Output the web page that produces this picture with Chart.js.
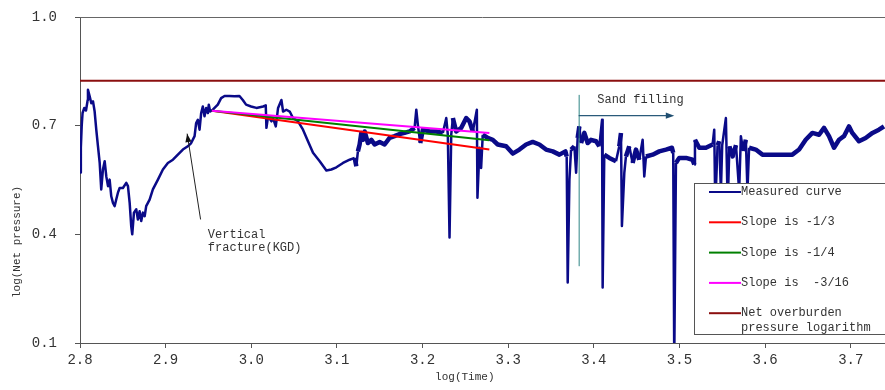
<!DOCTYPE html>
<html>
<head>
<meta charset="utf-8">
<script src="https://cdn.jsdelivr.net/npm/chart.js@4.4.1/dist/chart.umd.min.js"></script>
<style>
  body { margin: 0; background: #fff; }
  canvas { display: block; }
</style>
</head>
<body>
<canvas id="myChart" width="885" height="390"></canvas>
<script>
// measured curve: log(Time) / log(Net pressure)
const logTime = [
  2.800, 2.801, 2.802, 2.803, 2.805, 2.807, 2.809, 2.8093, 2.8113, 2.8132,
  2.8152, 2.8171, 2.8190, 2.8210, 2.8230, 2.8248, 2.8268, 2.8288, 2.8307, 2.8327,
  2.8346, 2.8365, 2.8385, 2.8405, 2.8423, 2.8443, 2.8463, 2.8501, 2.8540, 2.8560,
  2.8580, 2.8598, 2.8610, 2.8630, 2.8657, 2.8676, 2.8696, 2.8715, 2.8735, 2.8755,
  2.8773, 2.8813, 2.8851, 2.8910, 2.8968, 2.9026, 2.9085, 2.9143, 2.9201, 2.9259,
  2.9298, 2.9338, 2.9356, 2.9376, 2.9396, 2.9415, 2.9434, 2.9454, 2.9473, 2.9493,
  2.9504, 2.9520, 2.9551, 2.9609, 2.9648, 2.9688, 2.9746, 2.9804, 2.9862, 2.9901,
  2.9939, 2.9998, 3.0060, 3.0138, 3.0169, 3.0177, 3.0196, 3.0236, 3.0254, 3.0286,
  3.0313, 3.0352, 3.0371, 3.0410, 3.0449, 3.0487, 3.0546, 3.0604, 3.0662, 3.0721,
  3.0799, 3.0877, 3.0935, 3.0994, 3.1071, 3.1149, 3.1207, 3.1227, 3.1245, 3.1265,
  3.1285, 3.1304, 3.1324, 3.1362, 3.1402, 3.1440, 3.1499, 3.1557, 3.1615, 3.1673,
  3.1732, 3.1790, 3.1848, 3.1907, 3.1927, 3.1945, 3.1973, 3.2004, 3.2082, 3.2160,
  3.2237, 3.2277, 3.2295, 3.2315, 3.2335, 3.2354, 3.2393, 3.2452, 3.2510, 3.2548,
  3.2587, 3.2634, 3.2641, 3.2665, 3.2684, 3.2703, 3.2761, 3.2820, 3.2878, 3.2976,
  3.3053, 3.3131, 3.3209, 3.3286, 3.3364, 3.3442, 3.3520, 3.3598, 3.3668, 3.3683,
  3.3695, 3.3715, 3.3734, 3.3773, 3.3793, 3.3811, 3.3831, 3.3851, 3.3889, 3.3928,
  3.3967, 3.4026, 3.4064, 3.4096, 3.4103, 3.4122, 3.4181, 3.4259, 3.4297, 3.4317,
  3.4328, 3.4356, 3.4375, 3.4414, 3.4453, 3.4492, 3.4531, 3.4570, 3.4589, 3.4609,
  3.4687, 3.4764, 3.4842, 3.4912, 3.4927, 3.4939, 3.4959, 3.4997, 3.5076, 3.5153,
  3.5173, 3.5181, 3.5231, 3.5309, 3.5387, 3.5406, 3.5418, 3.5445, 3.5464, 3.5484,
  3.5499, 3.5542, 3.5563, 3.5583, 3.5621, 3.5660, 3.5697, 3.5717, 3.5744, 3.5775,
  3.5794, 3.5813, 3.5891, 3.5969, 3.6085, 3.6198, 3.6318, 3.6397, 3.6474, 3.6552,
  3.6630, 3.6688, 3.6746, 3.6805, 3.6863, 3.6921, 3.6980, 3.7018, 3.7096, 3.7174,
  3.7254, 3.7329, 3.7388
];
const logPressure = [
  0.571, 0.640, 0.700, 0.735, 0.749, 0.742, 0.771, 0.799, 0.781, 0.762,
  0.767, 0.739, 0.689, 0.643, 0.597, 0.524, 0.579, 0.602, 0.560, 0.533,
  0.551, 0.505, 0.487, 0.478, 0.496, 0.515, 0.528, 0.528, 0.542, 0.533,
  0.487, 0.423, 0.400, 0.460, 0.469, 0.441, 0.464, 0.437, 0.460, 0.450,
  0.478, 0.496, 0.524, 0.551, 0.579, 0.597, 0.606, 0.620, 0.634, 0.643,
  0.652, 0.671, 0.707, 0.716, 0.689, 0.735, 0.753, 0.726, 0.749, 0.735,
  0.758, 0.739, 0.744, 0.758, 0.776, 0.782, 0.782, 0.781, 0.782, 0.771,
  0.758, 0.753, 0.749, 0.753, 0.756, 0.694, 0.726, 0.712, 0.721, 0.698,
  0.749, 0.771, 0.739, 0.744, 0.739, 0.721, 0.712, 0.689, 0.657, 0.625,
  0.602, 0.576, 0.579, 0.585, 0.597, 0.606, 0.611, 0.588, 0.629, 0.648,
  0.680, 0.661, 0.684, 0.652, 0.661, 0.648, 0.655, 0.648, 0.666, 0.671,
  0.677, 0.680, 0.684, 0.694, 0.744, 0.703, 0.652, 0.689, 0.684, 0.684,
  0.680, 0.721, 0.675, 0.391, 0.675, 0.721, 0.684, 0.694, 0.721, 0.712,
  0.684, 0.744, 0.501, 0.639, 0.583, 0.675, 0.666, 0.661, 0.648, 0.643,
  0.623, 0.634, 0.648, 0.655, 0.648, 0.634, 0.629, 0.620, 0.629, 0.615,
  0.267, 0.551, 0.634, 0.643, 0.570, 0.666, 0.698, 0.652, 0.680, 0.652,
  0.661, 0.657, 0.643, 0.716, 0.253, 0.620, 0.611, 0.602, 0.643, 0.680,
  0.423, 0.570, 0.615, 0.643, 0.597, 0.634, 0.606, 0.661, 0.560, 0.615,
  0.620, 0.629, 0.634, 0.639, 0.625, 0.050, 0.597, 0.611, 0.611, 0.606,
  0.593, 0.661, 0.639, 0.639, 0.648, 0.689, 0.480, 0.646, 0.657, 0.520,
  0.646, 0.721, 0.480, 0.643, 0.615, 0.646, 0.520, 0.671, 0.630, 0.661,
  0.520, 0.639, 0.634, 0.620, 0.620, 0.620, 0.620, 0.634, 0.661, 0.680,
  0.675, 0.694, 0.671, 0.639, 0.661, 0.671, 0.698, 0.680, 0.657, 0.666,
  0.680, 0.689, 0.698
];

// fitted slope lines, start and end points
const slopeX = [2.954, 3.278];
const slopeThird = [0.741, 0.634];
const slopeQuarter = [0.741, 0.660];
const slopeSixteenth = [0.741, 0.680];

// net overburden pressure logarithm (flat)
const overburdenX = [2.8, 3.74];
const overburdenY = [0.824, 0.824];

const xTicks = [2.8, 2.9, 3.0, 3.1, 3.2, 3.3, 3.4, 3.5, 3.6, 3.7];
const yTicks = [0.1, 0.4, 0.7, 1.0];

const FONT = "'Liberation Mono', 'DejaVu Sans Mono', monospace";
const TEXT = '#333';

const pts = (xs, ys) => xs.map((x, i) => ({ x: x, y: ys[i] }));

// annotation anchors in data units
const notes = {
  kgdArrow: { from: [2.9408, 0.441], to: [2.9251, 0.678] },
  kgdText: { x: 2.9493, y: [0.400, 0.364], lines: ['Vertical', 'fracture(KGD)'] },
  sandLine: { x: 3.3823, y: [0.785, 0.312] },
  sandArrow: { y: 0.7275, x: [3.3823, 3.4939] },
  sandText: { x: 3.404, y: 0.7715, text: 'Sand filling' }
};

function arrowHead(ctx, x0, y0, x1, y1, size, color) {
  const a = Math.atan2(y1 - y0, x1 - x0);
  ctx.fillStyle = color;
  ctx.beginPath();
  ctx.moveTo(x1, y1);
  ctx.lineTo(x1 - size * Math.cos(a - 0.35), y1 - size * Math.sin(a - 0.35));
  ctx.lineTo(x1 - size * Math.cos(a + 0.35), y1 - size * Math.sin(a + 0.35));
  ctx.closePath();
  ctx.fill();
}

// the recorded signal is a noisy band after ~3.12, spikes stay thin
const bandWidth = c => {
  const noisy = c.p0.parsed.x > 3.12 && Math.abs(c.p1.y - c.p0.y) < 14;
  return noisy ? 4.5 : 2.5;
};

const extras = {
  id: 'extras',
  afterDatasetsDraw(chart) {
    const { ctx, chartArea: ca, scales: { x, y } } = chart;
    const px = v => x.getPixelForValue(v);
    const py = v => y.getPixelForValue(v);
    ctx.save();

    // top frame line
    ctx.strokeStyle = '#666';
    ctx.lineWidth = 1;
    ctx.beginPath();
    ctx.moveTo(ca.left, ca.top + 0.5);
    ctx.lineTo(ca.right, ca.top + 0.5);
    ctx.stroke();

    // KGD arrow + text
    const a = notes.kgdArrow;
    const ax0 = px(a.from[0]), ay0 = py(a.from[1]), ax1 = px(a.to[0]), ay1 = py(a.to[1]);
    ctx.strokeStyle = '#222';
    ctx.lineWidth = 1;
    ctx.beginPath();
    ctx.moveTo(ax0, ay0);
    ctx.lineTo(ax1, ay1);
    ctx.stroke();
    arrowHead(ctx, ax0, ay0, ax1, ay1, 9, '#111');

    ctx.fillStyle = TEXT;
    ctx.font = '12px ' + FONT;
    ctx.textBaseline = 'middle';
    ctx.textAlign = 'left';
    notes.kgdText.lines.forEach((t, i) => ctx.fillText(t, px(notes.kgdText.x), py(notes.kgdText.y[i])));

    // sand filling marker
    const s = notes.sandLine;
    ctx.strokeStyle = '#2e8585';
    ctx.beginPath();
    ctx.moveTo(px(s.x) + 0.5, py(s.y[0]));
    ctx.lineTo(px(s.x) + 0.5, py(s.y[1]));
    ctx.stroke();
    const sa = notes.sandArrow;
    ctx.strokeStyle = '#2a5a7a';
    ctx.lineWidth = 1.2;
    ctx.beginPath();
    ctx.moveTo(px(sa.x[0]), py(sa.y));
    ctx.lineTo(px(sa.x[1]) - 4, py(sa.y));
    ctx.stroke();
    arrowHead(ctx, px(sa.x[0]), py(sa.y), px(sa.x[1]), py(sa.y), 9, '#1f4e70');
    ctx.fillStyle = TEXT;
    ctx.fillText(notes.sandText.text, px(notes.sandText.x), py(notes.sandText.y));

    // legend box inside the plot
    const lx = ca.right - 191, ly = ca.top + 166, lw = 200, lh = 151;
    ctx.fillStyle = '#fff';
    ctx.fillRect(lx, ly, lw, lh);
    ctx.strokeStyle = '#555';
    ctx.lineWidth = 1;
    ctx.strokeRect(lx + 0.5, ly + 0.5, lw, lh);
    ctx.font = '12px ' + FONT;
    ctx.textAlign = 'left';
    ctx.textBaseline = 'middle';
    const order = [0, 1, 2, 3, 4];
    order.forEach((idx, row) => {
      const ds = chart.data.datasets[idx];
      const ry = ly + 9 + row * 30.3;
      ctx.strokeStyle = ds.borderColor;
      ctx.lineWidth = 2;
      ctx.beginPath();
      ctx.moveTo(lx + 15, ry);
      ctx.lineTo(lx + 47, ry);
      ctx.stroke();
      ctx.fillStyle = TEXT;
      ds.label.split('\n').forEach((t, k) => ctx.fillText(t, lx + 47, ry + k * 15));
    });
    ctx.restore();
  },
  afterDraw(chart) {
    const { ctx, chartArea: ca } = chart;
    ctx.save();
    ctx.fillStyle = TEXT;
    ctx.font = '11px ' + FONT;
    ctx.textAlign = 'center';
    ctx.textBaseline = 'middle';
    ctx.fillText('log(Time)', ca.left + 0.478 * (ca.right - ca.left), ca.bottom + 34);
    ctx.translate(17, ca.top + 0.69 * (ca.bottom - ca.top));
    ctx.rotate(-Math.PI / 2);
    ctx.fillText('log(Net pressure)', 0, 0);
    ctx.restore();
  }
};

const ctx = document.getElementById('myChart').getContext('2d');
const myChart = new Chart(ctx, {
  type: 'scatter',
  data: {
    datasets: [
      {
        label: 'Measured curve',
        data: pts(logTime, logPressure),
        borderColor: '#0a0a88',
        borderWidth: 2.5,
        borderJoinStyle: 'round',
        segment: { borderWidth: bandWidth },
        showLine: true,
        pointRadius: 0,
        order: 10
      },
      {
        label: 'Slope is -1/3',
        data: pts(slopeX, slopeThird),
        borderColor: '#ff0000',
        borderWidth: 2,
        showLine: true,
        pointRadius: 0,
        order: 3
      },
      {
        label: 'Slope is -1/4',
        data: pts(slopeX, slopeQuarter),
        borderColor: '#008000',
        borderWidth: 2,
        showLine: true,
        pointRadius: 0,
        order: 2
      },
      {
        label: 'Slope is  -3/16',
        data: pts(slopeX, slopeSixteenth),
        borderColor: '#ff00ff',
        borderWidth: 2,
        showLine: true,
        pointRadius: 0,
        order: 1
      },
      {
        label: 'Net overburden\npressure logarithm',
        data: pts(overburdenX, overburdenY),
        borderColor: '#8b0f0f',
        borderWidth: 2,
        showLine: true,
        pointRadius: 0,
        order: 4
      }
    ]
  },
  options: {
    responsive: false,
    animation: false,
    layout: { padding: { top: 17, right: 0, bottom: 0, left: 0 } },
    plugins: { legend: { display: false }, tooltip: { enabled: false } },
    scales: {
      x: {
        type: 'linear',
        min: 2.8,
        max: 3.74,
        afterBuildTicks: axis => { axis.ticks = xTicks.map(v => ({ value: v })); },
        afterFit: axis => { axis.height = 47; axis.paddingRight = 0; },
        grid: { drawOnChartArea: false, drawTicks: true, tickLength: 5, color: '#555' },
        border: { color: '#555', width: 1 },
        ticks: {
          color: TEXT,
          font: { family: FONT, size: 14 },
          padding: 4,
          maxRotation: 0,
          callback: v => v.toFixed(1)
        }
      },
      y: {
        min: 0.1,
        max: 1.0,
        afterBuildTicks: axis => { axis.ticks = yTicks.map(v => ({ value: v })); },
        // keep label padding from pushing the plot down
        afterFit: axis => { axis.width = 80; axis.paddingTop = 0; axis.paddingBottom = 0; },
        grid: { drawOnChartArea: false, drawTicks: true, tickLength: 5, color: '#555' },
        border: { color: '#555', width: 1 },
        ticks: {
          color: TEXT,
          font: { family: FONT, size: 14 },
          padding: 18,
          callback: v => v.toFixed(1)
        }
      }
    }
  },
  plugins: [extras]
});
</script>
</body>
</html>
